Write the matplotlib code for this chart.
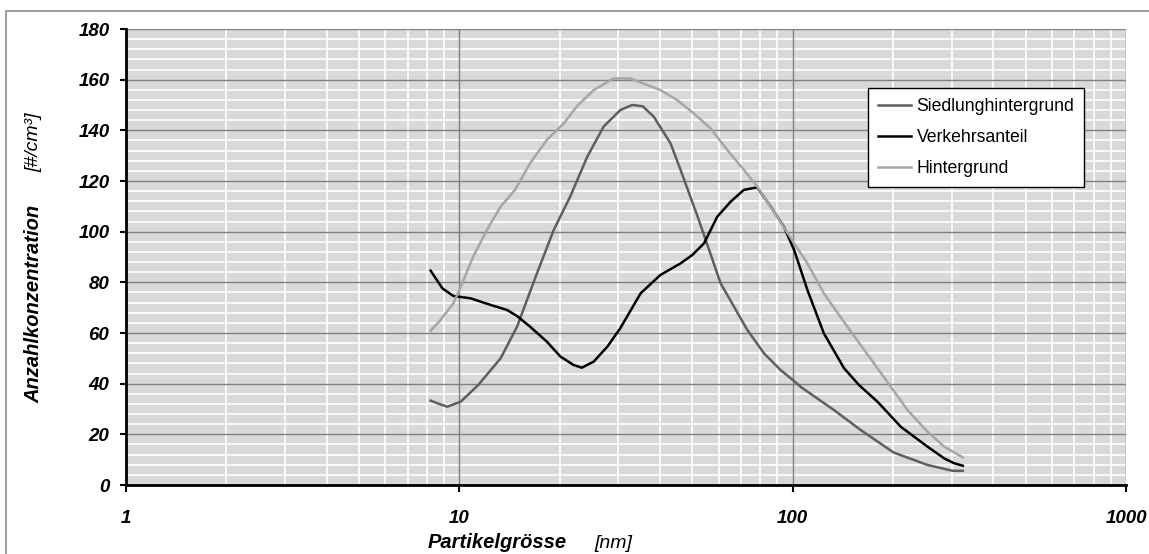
import matplotlib
matplotlib.use("Agg")
import matplotlib.pyplot as plt
from matplotlib.ticker import MultipleLocator, LogLocator, FixedLocator, NullFormatter
from matplotlib.patches import Rectangle

# Daten (Partikelgrösse in nm, Konzentration in #/cm3)
sied_d = [8.2, 8.7, 9.2, 10.1, 11.4, 13.3, 14.9, 17.1, 19.2, 21.5, 24.2, 27.1, 30.4, 33.0, 35.5,
          38.3, 43.0, 46.1, 52.3, 60.8, 73.1, 82.0, 92.0, 100, 106, 133, 160, 201, 254, 302, 324]
sied_v = [33.3, 32.0, 30.9, 32.9, 39.5, 50.0, 62.5, 83.6, 100.7, 113.8, 129.6, 141.5, 148.0, 150.0, 149.5,
          145.4, 134.9, 124.4, 104.6, 79.6, 61.2, 52.0, 45.4, 41.5, 38.6, 29.6, 21.7, 12.8, 7.9, 5.6, 5.6]

verk_d = [8.2, 8.9, 9.6, 10.8, 12.4, 13.9, 14.9, 16.3, 18.3, 20.1, 22.0, 23.3, 25.3, 27.8, 30.4,
          35.0, 40.1, 46.1, 50.0, 54.2, 59.4, 65.1, 71.4, 78.3, 85.9, 94.1, 101, 110.7, 124, 142.6,
          158, 179.6, 211, 254, 285, 305, 324]
verk_v = [84.6, 77.6, 74.6, 73.7, 71.1, 69.1, 66.7, 62.5, 56.6, 50.7, 47.4, 46.3, 48.7, 54.6, 61.9,
          75.7, 82.9, 87.5, 90.8, 95.4, 105.9, 111.8, 116.5, 117.5, 109.9, 102.0, 92.8, 77.0, 59.9, 46.1,
          39.5, 32.9, 23.0, 15.1, 10.5, 8.6, 7.6]

hint_d = [8.2, 8.7, 9.6, 10.2, 11.0, 12.1, 13.3, 14.7, 16.3, 18.3, 20.6, 22.5, 25.3, 29.0, 32.6,
          36.6, 40.1, 45.0, 50.5, 56.7, 63.6, 71.4, 78.3, 83.9, 89.9, 101, 110.7, 124, 139, 156,
          179.6, 192, 221, 254, 285, 324]
hint_v = [60.9, 64.5, 71.7, 79.6, 90.1, 100.7, 109.9, 116.5, 127.0, 136.2, 142.8, 149.4, 155.9, 160.5, 160.5,
          157.9, 155.9, 152.0, 146.7, 140.8, 132.3, 124.4, 117.8, 111.8, 105.9, 95.4, 87.5, 75.7, 66.4, 57.2,
          46.1, 40.8, 29.6, 21.0, 15.1, 10.9]

x_ticks = [1, 10, 100, 1000]
x_ticklabels = ["1", "10", "100", "1000"]

plt.rcParams['font.family'] = ['Liberation Sans', 'DejaVu Sans']

fig = plt.figure(figsize=(11.49, 5.54), dpi=100)
ax = fig.add_axes([126 / 1149, 1 - 485 / 554, 1000 / 1149, 456 / 554])

# Rahmen um die ganze Grafik
fig.patches.append(Rectangle((6 / 1149, -0.05), 1.1, 0.05 + (1 - 11 / 554), transform=fig.transFigure,
                             fill=False, edgecolor='#8c8c8c', lw=1.2, clip_on=False))

ax.set_facecolor('#d9d9d9')
ax.set_xscale('log')
ax.set_xlim(1, 1000)
ax.set_ylim(0, 180)

ax.plot(sied_d, sied_v, color='#5f5f5f', lw=1.8, label='Siedlunghintergrund', zorder=3)
ax.plot(verk_d, verk_v, color='black', lw=1.8, label='Verkehrsanteil', zorder=3)
ax.plot(hint_d, hint_v, color='#a6a6a6', lw=1.8, label='Hintergrund', zorder=3)

# Gitter: feine Linien weiss, Hauptlinien grau darüber
ax.xaxis.set_major_locator(FixedLocator(x_ticks))
ax.set_xticklabels(x_ticklabels)
ax.xaxis.set_minor_locator(LogLocator(base=10, subs=range(2, 10)))
ax.xaxis.set_minor_formatter(NullFormatter())
ax.yaxis.set_major_locator(MultipleLocator(20))
ax.yaxis.set_minor_locator(MultipleLocator(4))
ax.grid(which='minor', color='white', lw=1.2)
for yv in ax.get_yticks():
    ax.axhline(yv, color='#808080', lw=1.0, zorder=1.8)
for xv in x_ticks:
    ax.axvline(xv, color='#808080', lw=1.0, zorder=1.8)

for s in ['top', 'right']:
    ax.spines[s].set_visible(False)
for s in ['left', 'bottom']:
    ax.spines[s].set_linewidth(2)
    ax.spines[s].set_color('black')
    ax.spines[s].set_zorder(4)

ax.tick_params(which='minor', length=0)
ax.tick_params(axis='y', which='major', length=4, width=1.5, pad=8)
ax.tick_params(axis='x', which='major', length=5, width=1.5, pad=13)
for lab in ax.get_xticklabels() + ax.get_yticklabels():
    lab.set_fontsize(13.5)
    lab.set_fontweight('bold')
    lab.set_fontstyle('italic')

# Achsentitel
fig.text(34 / 1149, 1 - 304 / 554, 'Anzahlkonzentration', rotation=90, ha='center', va='center',
         fontsize=14.5, fontweight='bold', fontstyle='italic')
fig.text(34 / 1149, 1 - 142 / 554, '[#/cm³]', rotation=90, ha='center', va='center',
         fontsize=14, fontstyle='italic')
fig.text(497 / 1149, 1 - 543 / 554, 'Partikelgrösse', ha='center', va='center',
         fontsize=14.5, fontweight='bold', fontstyle='italic')
fig.text(613 / 1149, 1 - 543 / 554, '[nm]', ha='center', va='center',
         fontsize=14, fontstyle='italic')

leg = ax.legend(loc='upper left', bbox_to_anchor=(868 / 1149, 1 - 88 / 554), bbox_transform=fig.transFigure,
                borderaxespad=0, fancybox=False, framealpha=1, edgecolor='black', fontsize=12.7,
                handlelength=1.9, labelspacing=0.8, borderpad=0.55, handletextpad=0.3)
leg.get_frame().set_linewidth(1.0)
leg.set_zorder(5)

fig.savefig("out.png", dpi=100)
